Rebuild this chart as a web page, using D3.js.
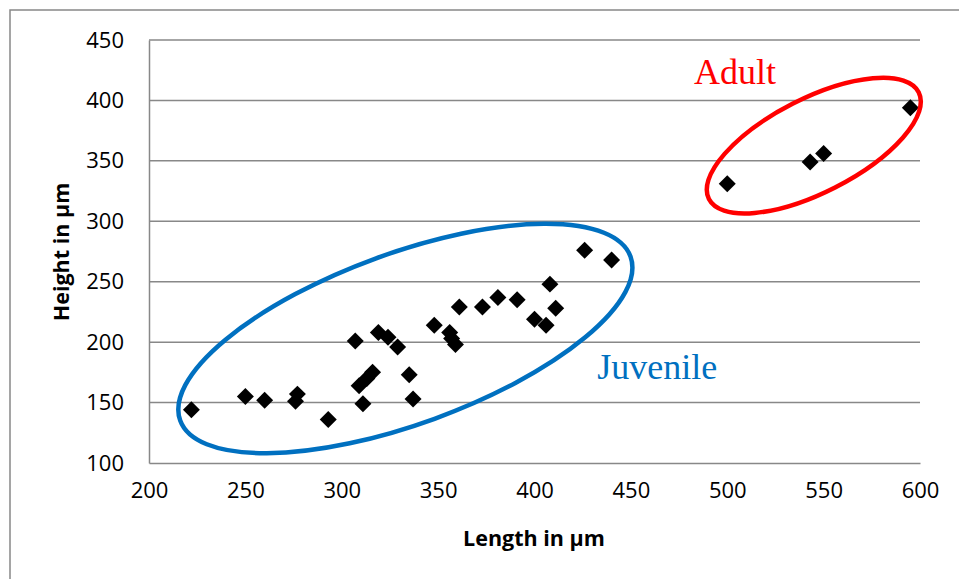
<!DOCTYPE html>
<html><head><meta charset="utf-8">
<script src="https://cdn.jsdelivr.net/npm/d3@7"></script>
<style>body{margin:0;background:#fff}svg{display:block}</style>
</head><body>
<script>
// Data (Length, Height in µm)
const lengths = [222,250,260,277,276,293,307,311,309,313,316,319,324,329,335,337,348,356,357,359,361,373,381,391,408,411,400,406,426,440, 500,543,550,595];
const heights = [144,155,152,157,151,136,201,149,164,170,175,208,204,196,173,153,214,208,203,198,229,229,237,235,248,228,219,214,276,268, 331,349,356,394];
const xTicks = [200,250,300,350,400,450,500,550,600];
const yTicks = [100,150,200,250,300,350,400,450];
const groupLabels = ["Juvenile","Adult"];
const groupColors = ["#0070C0","#FF0000"];
const groupCenters = [[333.0,203.0],[544.9,362.6]]; // data units
const groupRadii = [[239.6,85.4],[117.7,46.9]];
const groupAngles = [-20.0,-27.0];
const labelPos = [[432.6,169.3],[482.8,413.3]]; // data units (text start, baseline)

const W=959,H=579;
const svg=d3.select("body").append("svg").attr("width",W).attr("height",H);
// outer border
svg.append("rect").attr("x",10).attr("y",10).attr("width",W).attr("height",H)
  .attr("fill","none").attr("stroke","#888").attr("stroke-width",1.5);

const x=d3.scaleLinear().domain([200,600]).range([149,920]);
const y=d3.scaleLinear().domain([100,450]).range([463,40]);

// gridlines
svg.append("g").selectAll("line").data(yTicks.filter(d=>d>100)).join("line")
  .attr("x1",x(200)).attr("x2",x(600)).attr("y1",d=>y(d)).attr("y2",d=>y(d))
  .attr("stroke","#888").attr("stroke-width",1.5);

// axes
const xa=svg.append("g").attr("transform",`translate(0,${y(100)})`)
  .call(d3.axisBottom(x).tickValues(xTicks).tickSize(0).tickPadding(14));
const ya=svg.append("g").attr("transform",`translate(${x(200)},0)`)
  .call(d3.axisLeft(y).tickValues(yTicks).tickSize(0).tickPadding(25));
[xa,ya].forEach(a=>{
  a.select(".domain").attr("stroke","#888").attr("stroke-width",1.5);
  a.selectAll("text").attr("font-family","'Open Sans'").attr("font-size",22).attr("fill","#000");
});
xa.selectAll("text").attr("dy","0.95em");

// axis titles
svg.append("text").attr("x",534).attr("y",546).attr("text-anchor","middle")
  .attr("font-family","'Open Sans'").attr("font-weight","bold").attr("font-size",21.5).text("Length in µm");
svg.append("text").attr("transform","translate(69,252) rotate(-90)").attr("text-anchor","middle")
  .attr("font-family","'Open Sans'").attr("font-weight","bold").attr("font-size",21.5).text("Height in µm");

// markers
const pts=lengths.map((l,i)=>[l,heights[i]]);
svg.append("g").selectAll("path").data(pts).join("path")
  .attr("transform",d=>`translate(${x(d[0])},${y(d[1])}) rotate(45)`)
  .attr("d","M-6,-6H6V6H-6Z").attr("fill","#000");

// group ellipses & labels
groupLabels.forEach((g,i)=>{
  svg.append("ellipse").attr("cx",0).attr("cy",0)
    .attr("rx",groupRadii[i][0]).attr("ry",groupRadii[i][1])
    .attr("transform",`translate(${x(groupCenters[i][0])},${y(groupCenters[i][1])}) rotate(${groupAngles[i]})`)
    .attr("fill","none").attr("stroke",groupColors[i]).attr("stroke-width",4.5);
  svg.append("text").attr("x",x(labelPos[i][0])).attr("y",y(labelPos[i][1]))
    .attr("font-family","'Liberation Serif'").attr("font-size",36).attr("fill",groupColors[i]).text(g);
});
</script>
</body></html>
